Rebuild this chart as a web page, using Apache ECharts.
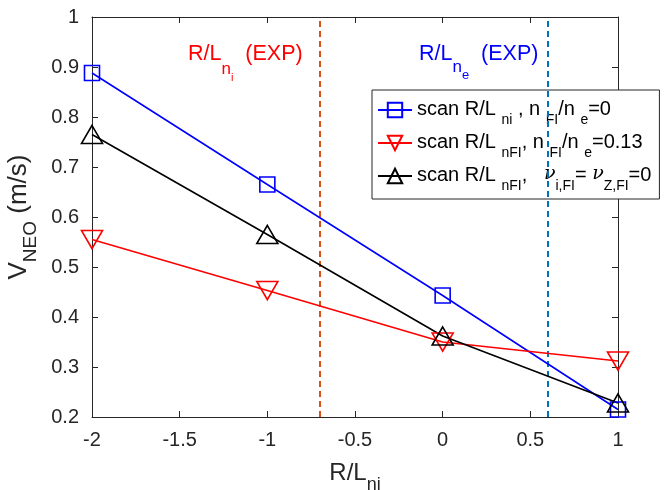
<!DOCTYPE html>
<html><head><meta charset="utf-8">
<script src="https://cdn.jsdelivr.net/npm/echarts@6/dist/echarts.min.js"></script>
<style>html,body{margin:0;padding:0;background:#fff}#c{width:666px;height:490px}</style>
</head><body><div id="c"></div>
<script>
// ---- data ----
const xValues = [-2, -1, 0, 1];
const blueScanNi = [0.888, 0.665, 0.443, 0.215];
const redScanNFI = [0.555, 0.453, 0.350, 0.312];
const blackScanNFI = [0.765, 0.565, 0.362, 0.228];
const expLines = [-0.7, 0.6];
const seriesNames = ['blue', 'red', 'black'];

const FONT = 'Liberation Sans';
const pairs = arr => xValues.map((x, i) => [x, arr[i]]);

const base = {fontFamily: FONT, fontSize: 20, lineHeight: 22, verticalAlign: 'top', color: '#000'};
const sub = {fontFamily: FONT, fontSize: 14, lineHeight: 14, padding: [14, 0, 0, 0], verticalAlign: 'top', color: '#000'};
const nu = {fontFamily: 'DejaVu Serif', fontStyle: 'italic', fontSize: 19, lineHeight: 22, verticalAlign: 'top', color: '#000'};

const legendText = {
  blue: '{r|scan R/L }{s|ni}{r| , n }{s|FI}{r|/n }{s|e}{r|=0}',
  red: '{r|scan R/L }{s|nFI}{r|, n }{s|FI}{r|/n }{s|e}{r|=0.13}',
  black: '{r|scan R/L }{s|nFI}{r|,   }{nu|ν}{s|i,FI}{r|= }{nu|ν}{s|Z,FI}{r|=0}'
};

const chart = echarts.init(document.getElementById('c'));
const axisCommon = {
  type: 'value',
  axisLine: {show: true, onZero: false, lineStyle: {color: '#262626', width: 1}},
  axisTick: {inside: true, length: 6, lineStyle: {color: '#262626'}},
  splitLine: {show: false}
};
chart.setOption({
  animation: false,
  backgroundColor: '#fff',
  grid: {left: 92, right: 48, top: 17, bottom: 73, containLabel: false, outerBoundsMode: 'none'},
  xAxis: [
    Object.assign({}, axisCommon, {
      min: -2, max: 1, interval: 0.5, position: 'bottom',
      axisLabel: {fontFamily: FONT, fontSize: 20, color: '#262626', margin: 13},
      name: '{r|R/L}{s|ni}', nameLocation: 'middle', nameGap: 44,
      nameTextStyle: {rich: {
        r: {fontFamily: FONT, fontSize: 24, lineHeight: 27, verticalAlign: 'top', color: '#262626'},
        s: {fontFamily: FONT, fontSize: 18, lineHeight: 18, padding: [15, 0, 0, 0], verticalAlign: 'top', color: '#262626'}
      }}
    }),
    Object.assign({}, axisCommon, {
      min: -2, max: 1, interval: 0.5, position: 'top', axisLabel: {show: false}
    })
  ],
  yAxis: [
    Object.assign({}, axisCommon, {
      min: 0.2, max: 1, interval: 0.1, position: 'left',
      axisLabel: {fontFamily: FONT, fontSize: 20, color: '#262626', margin: 13,
        formatter: v => String(Math.round(v * 10) / 10)},
      name: '{r|V}{s|NEO}{r| (m/s)}', nameLocation: 'middle', nameGap: 53,
      nameTextStyle: {rich: {
        r: {fontFamily: FONT, fontSize: 26, lineHeight: 29, verticalAlign: 'top', color: '#262626'},
        s: {fontFamily: FONT, fontSize: 19, lineHeight: 19, padding: [15, 0, 0, 0], verticalAlign: 'top', color: '#262626'}
      }}
    }),
    Object.assign({}, axisCommon, {
      min: 0.2, max: 1, interval: 0.1, position: 'right', axisLabel: {show: false}
    })
  ],
  legend: {
    orient: 'vertical', left: 372, top: 90,
    data: seriesNames,
    itemWidth: 34, itemHeight: 18, itemGap: 5,
    padding: [9, 8, 6, 5],
    backgroundColor: '#fff', borderColor: '#262626', borderWidth: 1, borderRadius: 0,
    formatter: name => legendText[name],
    textStyle: {rich: {r: base, s: sub, nu: nu}}
  },
  graphic: [
    {type: 'text', left: 188, top: 43, z: 10, style: {
      text: '{a|R/L}{b|n}{c|i}{a|  (EXP)}',
      rich: {
        a: {fontFamily: FONT, fontSize: 21.5, lineHeight: 24, verticalAlign: 'top', fill: '#ff0000'},
        b: {fontFamily: FONT, fontSize: 17, lineHeight: 17, padding: [18, 0, 0, 0], verticalAlign: 'top', fill: '#ff0000'},
        c: {fontFamily: FONT, fontSize: 11, lineHeight: 11, padding: [29, 0, 0, 0], verticalAlign: 'top', fill: '#ff0000'}
      }}},
    {type: 'text', left: 419, top: 43, z: 10, style: {
      text: '{a|R/L}{b|n}{c|e}{a|  (EXP)}',
      rich: {
        a: {fontFamily: FONT, fontSize: 21.5, lineHeight: 24, verticalAlign: 'top', fill: '#0000ff'},
        b: {fontFamily: FONT, fontSize: 17, lineHeight: 17, padding: [16, 0, 0, 0], verticalAlign: 'top', fill: '#0000ff'},
        c: {fontFamily: FONT, fontSize: 13, lineHeight: 13, padding: [26, 0, 0, 0], verticalAlign: 'top', fill: '#0000ff'}
      }}}
  ],
  series: [
    {
      name: 'blue', type: 'line', data: pairs(blueScanNi),
      symbol: 'rect', symbolSize: 15,
      lineStyle: {color: '#0000ff', width: 1.6},
      itemStyle: {color: 'transparent', borderColor: '#0000ff', borderWidth: 1.6},
      z: 5,
      markLine: {
        silent: true, symbol: 'none', label: {show: false},
        data: [
          {xAxis: expLines[0], lineStyle: {color: '#D95319', type: [6, 4], width: 2}},
          {xAxis: expLines[1], lineStyle: {color: '#0072BD', type: [6, 4], width: 2}}
        ]
      }
    },
    {
      name: 'red', type: 'line', data: pairs(redScanNFI),
      symbol: 'path://M0,0L20,0L10,17Z', symbolSize: [21, 18],
      lineStyle: {color: '#ff0000', width: 1.6},
      itemStyle: {color: 'transparent', borderColor: '#ff0000', borderWidth: 1.6},
      z: 5
    },
    {
      name: 'black', type: 'line', data: pairs(blackScanNFI),
      symbol: 'triangle', symbolSize: [21, 18],
      lineStyle: {color: '#000000', width: 1.6},
      itemStyle: {color: 'transparent', borderColor: '#000000', borderWidth: 1.6},
      z: 5
    }
  ]
});
</script></body></html>
